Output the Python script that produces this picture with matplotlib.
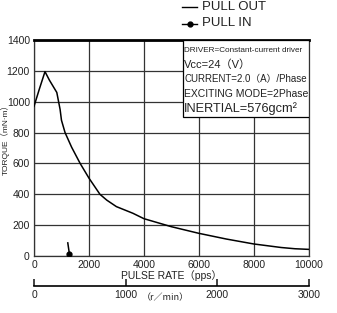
import matplotlib
matplotlib.use("Agg")
import matplotlib.pyplot as plt
from matplotlib.patches import Rectangle
from matplotlib.lines import Line2D

# ---- data ----
pullout_pps = [0, 200, 400, 560, 830, 950, 1000, 1130, 1370, 1680, 2000, 2400, 2650,
               3000, 3600, 4000, 5000, 6000, 7000, 8000, 9000, 9500, 10000]
pullout_torque = [970, 1085, 1195, 1140, 1060, 950, 880, 800, 705, 600, 505, 400, 362,
                  320, 277, 242, 190, 147, 110, 78, 55, 47, 43]
pullin_pps = [1230, 1290]
pullin_torque = [85, 12]

x_ticks = [0, 2000, 4000, 6000, 8000, 10000]
y_ticks = [0, 200, 400, 600, 800, 1000, 1200, 1400]
rpm_ticks = [0, 1000, 2000, 3000]

info_lines = ["DRIVER=Constant-current driver", "Vcc=24\uff08V\uff09",
              "CURRENT=2.0\uff08A\uff09/Phase", "EXCITING MODE=2Phase",
              "INERTIAL=576gcm\u00b2"]

plt.rcParams['font.family'] = ['Liberation Sans', 'Noto Sans CJK JP', 'DejaVu Sans']
BOXFONT = ['Liberation Sans', 'Noto Sans CJK JP', 'DejaVu Sans']

W, H = 337, 313
fig = plt.figure(figsize=(W / 100, H / 100), dpi=100)

L, R, T, B = 34, 308.7, 40, 256
ax = fig.add_axes([L / W, 1 - B / H, (R - L) / W, (B - T) / H])
ax.set_xlim(0, 10000)
ax.set_ylim(0, 1400)
ax.set_xticks(x_ticks)
ax.set_yticks(y_ticks)
ax.grid(True, color='#333333', linewidth=0.9)
ax.tick_params(length=0, labelsize=7.5, pad=3, colors='#222222')
for s in ['left', 'bottom', 'right']:
    ax.spines[s].set_linewidth(0.9)
    ax.spines[s].set_color('#333333')
ax.spines['top'].set_linewidth(2.0)
ax.spines['top'].set_color('black')

ax.plot(pullout_pps, pullout_torque, color='black', linewidth=1.1, zorder=3)
ax.plot(pullin_pps, pullin_torque, color='black', linewidth=1.1, zorder=3)
ax.plot(pullin_pps[-1:], pullin_torque[-1:], 'o', color='black', markersize=3.5, zorder=4)

ax.set_xlabel('PULSE RATE\uff08pps\uff09', fontsize=7.5, labelpad=0, color='#222222')
ax.set_ylabel('TORQUE\uff08mN\u00b7m\uff09', fontsize=6.0, color='#222222')
ax.yaxis.set_label_coords(-24.5 / (R - L), (256 - 138) / (B - T))

# info box
ax.add_patch(Rectangle((5420, 900), 10000 - 5420, 500, facecolor='white',
                       edgecolor='black', linewidth=0.9, zorder=5))
ys = [1333, 1243, 1146, 1049, 958]
sizes = [5.9, 8, 7.0, 7.5, 9.2]
for t, yv, fs in zip(info_lines, ys, sizes):
    ax.text(5470, yv, t, fontsize=fs, va='center', ha='left', family=BOXFONT,
            color='#222222', zorder=6)

# legend
fig.add_artist(Line2D([182 / W, 197 / W], [1 - 6.5 / H, 1 - 6.5 / H], color='black', linewidth=1))
fig.text(202 / W, 1 - 6.5 / H, 'PULL OUT', fontsize=9.5, va='center', ha='left', color='#222222')
fig.add_artist(Line2D([182 / W, 197 / W], [1 - 23.5 / H, 1 - 23.5 / H], color='black', linewidth=1))
fig.add_artist(Line2D([190 / W], [1 - 23.5 / H], marker='o', color='black', markersize=3.5))
fig.text(202 / W, 1 - 23.5 / H, 'PULL IN', fontsize=9.5, va='center', ha='left', color='#222222')

# rpm axis
ax2 = fig.add_axes([L / W, 1 - 285.5 / H, (R - L) / W, 0.0001])
ax2.set_xlim(0, 3000)
ax2.set_xticks(rpm_ticks)
ax2.set_yticks([])
for s in ['left', 'right', 'top']:
    ax2.spines[s].set_visible(False)
ax2.spines['bottom'].set_linewidth(1.2)
ax2.tick_params(axis='x', direction='in', length=5, width=1.2, labelsize=7.5, pad=3,
                colors='#222222')
ax2.patch.set_visible(False)
fig.text(165 / W, 1 - 298 / H, '\uff08r\uff0fmin\uff09', fontsize=6.5, ha='center', va='center',
         family=['Noto Sans CJK JP', 'DejaVu Sans'], color='#222222')

fig.savefig('out.png', dpi=100)
